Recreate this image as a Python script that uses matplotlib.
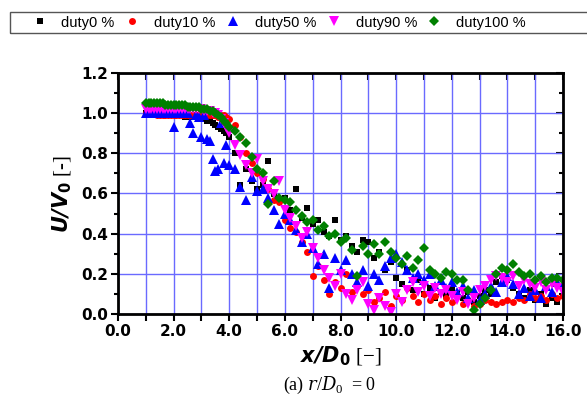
import numpy as np
import matplotlib
matplotlib.use("Agg")
import matplotlib.pyplot as plt
from matplotlib.patches import Rectangle
from matplotlib.ticker import MultipleLocator, FuncFormatter

# measurement positions x/D0
x_near = [1.0, 1.1, 1.2, 1.3, 1.4, 1.5, 1.6, 1.7, 1.8, 1.9, 2.0, 2.1, 2.2, 2.3, 2.4, 2.5,
          2.6, 2.7, 2.8, 2.9, 3.0, 3.1, 3.2, 3.3, 3.4, 3.5, 3.6, 3.7, 3.8, 3.9, 4.0]
x_far = [4.2, 4.4, 4.6, 4.8, 5.0, 5.2, 5.4, 5.6, 5.8, 6.0, 6.2, 6.4, 6.6, 6.8, 7.0, 7.2,
         7.4, 7.6, 7.8, 8.0, 8.2, 8.4, 8.6, 8.8, 9.0, 9.2, 9.4, 9.6, 9.8, 10.0, 10.2, 10.4,
         10.6, 10.8, 11.0, 11.2, 11.4, 11.6, 11.8, 12.0, 12.2, 12.4, 12.6, 12.8, 13.0, 13.2,
         13.4, 13.6, 13.8, 14.0, 14.2, 14.4, 14.6, 14.8, 15.0, 15.2, 15.4, 15.6, 15.8, 16.0]

# U/V0 for each duty ratio
duty0 = [1.00, 1.00, 1.00, 1.00, 1.00, 1.00, 1.00, 1.00, 0.99, 0.99, 0.99, 0.99, 0.99, 0.99, 0.98, 0.98,
         0.98, 0.98, 0.98, 0.97, 0.97, 0.97, 0.96, 0.96, 0.95, 0.94, 0.93, 0.92, 0.91, 0.90, 0.88,
         0.80, 0.64, 0.72, 0.66, 0.62, 0.64, 0.76, 0.60, 0.57, 0.58, 0.52, 0.62, 0.48, 0.53, 0.45, 0.47,
         0.41, 0.39, 0.47, 0.37, 0.39, 0.34, 0.31, 0.37, 0.36, 0.28, 0.31, 0.22, 0.26, 0.18, 0.15, 0.22,
         0.12, 0.17, 0.10, 0.13, 0.08, 0.11, 0.09, 0.12, 0.10, 0.08, 0.11, 0.06, 0.09, 0.12,
         0.10, 0.16, 0.19, 0.17, 0.13, 0.10, 0.08, 0.12, 0.07, 0.10, 0.05, 0.08, 0.06, 0.09]
duty10 = [1.00, 1.00, 1.00, 1.00, 0.99, 0.99, 0.99, 0.99, 0.99, 0.99, 0.99, 0.99, 0.99, 0.99, 0.99, 0.99,
          0.99, 0.99, 0.99, 0.99, 0.99, 0.99, 0.99, 0.99, 0.99, 0.99, 0.98, 0.99, 0.99, 0.98, 0.97,
          0.94, 0.88, 0.80, 0.75, 0.70, 0.67, 0.62, 0.57, 0.56, 0.47, 0.43, 0.41, 0.36, 0.31, 0.19, 0.24,
          0.17, 0.10, 0.16, 0.13, 0.20, 0.11, 0.14, 0.10, 0.12, 0.06, 0.08, 0.11, 0.04, 0.09, 0.07, 0.13,
          0.09, 0.06, 0.10, 0.07, 0.09, 0.05, 0.08, 0.06, 0.09, 0.05, 0.07, 0.04, 0.05, 0.07,
          0.06, 0.05, 0.06, 0.07, 0.06, 0.08, 0.07, 0.10, 0.08, 0.09, 0.07, 0.10, 0.08, 0.09]
duty50 = [1.00, 1.00, 1.00, 1.00, 1.00, 1.00, 1.00, 1.00, 1.00, 1.00, 0.93, 1.00, 1.00, 1.00, 1.00, 1.00,
          0.95, 0.90, 0.99, 0.98, 0.88, 0.99, 0.87, 0.86, 0.77, 0.71, 0.72, 0.95, 0.75, 0.84, 0.74,
          0.72, 0.63, 0.57, 0.68, 0.61, 0.62, 0.58, 0.52, 0.45, 0.50, 0.47, 0.42, 0.36, 0.40, 0.33, 0.25,
          0.30, 0.13, 0.28, 0.22, 0.27, 0.20, 0.16, 0.22, 0.14, 0.20, 0.17, 0.24, 0.28, 0.30, 0.26, 0.22,
          0.18, 0.20, 0.17, 0.20, 0.14, 0.17, 0.13, 0.16, 0.11, 0.14, 0.08, 0.12, 0.07, 0.10,
          0.14, 0.11, 0.16, 0.19, 0.15, 0.10, 0.13, 0.09, 0.12, 0.08, 0.14, 0.11, 0.16, 0.15]
duty90 = [1.02, 1.02, 1.02, 1.02, 1.02, 1.02, 1.02, 1.02, 1.02, 1.02, 1.02, 1.02, 1.02, 1.02, 1.02, 1.02,
          1.02, 1.02, 1.02, 1.02, 1.02, 1.01, 1.01, 1.01, 1.00, 1.00, 0.99, 0.97, 0.95, 0.93, 0.90,
          0.84, 0.79, 0.74, 0.70, 0.77, 0.66, 0.62, 0.60, 0.66, 0.52, 0.48, 0.44, 0.38, 0.41, 0.33, 0.28,
          0.22, 0.18, 0.14, 0.20, 0.10, 0.07, 0.12, 0.16, 0.05, 0.02, 0.08, 0.04, 0.01, 0.10, 0.06, 0.12,
          0.16, 0.11, 0.14, 0.09, 0.13, 0.10, 0.12, 0.09, 0.07, 0.11, 0.05, 0.08, 0.12, 0.14,
          0.17, 0.19, 0.18, 0.16, 0.19, 0.14, 0.17, 0.15, 0.13, 0.16, 0.12, 0.15, 0.13, 0.11]
duty100 = [1.05, 1.05, 1.05, 1.05, 1.05, 1.05, 1.05, 1.04, 1.04, 1.04, 1.04, 1.04, 1.04, 1.04, 1.04, 1.03,
           1.03, 1.03, 1.03, 1.03, 1.02, 1.02, 1.02, 1.01, 1.01, 1.00, 0.99, 0.98, 0.96, 0.95, 0.93,
           0.91, 0.88, 0.85, 0.78, 0.72, 0.70, 0.55, 0.66, 0.58, 0.57, 0.56, 0.52, 0.49, 0.46, 0.47, 0.42,
           0.44, 0.39, 0.40, 0.36, 0.38, 0.32, 0.19, 0.34, 0.30, 0.35, 0.30, 0.36, 0.31, 0.28, 0.25, 0.29,
           0.23, 0.27, 0.33, 0.22, 0.20, 0.18, 0.21, 0.20, 0.17, 0.17, 0.12, 0.02, 0.05, 0.08,
           0.12, 0.20, 0.23, 0.22, 0.25, 0.21, 0.19, 0.20, 0.17, 0.19, 0.16, 0.18, 0.18, 0.17]

labels = ["duty0 %", "duty10 %", "duty50 %", "duty90 %", "duty100 %"]

plt.rcParams["font.family"] = "DejaVu Sans"
plt.rcParams["mathtext.fontset"] = "custom"
plt.rcParams["mathtext.rm"] = "Liberation Serif"
plt.rcParams["mathtext.it"] = "DejaVu Serif:italic"
plt.rcParams["mathtext.bf"] = "DejaVu Sans:bold"
plt.rcParams["mathtext.sf"] = "DejaVu Sans:italic:bold"

fig = plt.figure(figsize=(5.87, 3.97), dpi=100)
ax = fig.add_axes([118 / 587, 1 - 314 / 397, 445 / 587, 241 / 397])

x = np.array(x_near + x_far)
series = [duty0, duty10, duty50, duty90, duty100]
styles = [("s", "black", 5), ("o", "red", 5), ("^", "blue", 6.5), ("v", "magenta", 6.5), ("D", "green", 5.5)]
handles = []
for vals, (m, c, ms), lab in zip(series, styles, labels):
    h, = ax.plot(x, vals, linestyle="none", marker=m, color=c, markersize=ms,
                 markeredgewidth=0, label=lab)
    handles.append(h)

ax.set_xlim(0, 16)
ax.set_ylim(0, 1.2)
ax.xaxis.set_major_locator(MultipleLocator(1))
ax.xaxis.set_major_formatter(FuncFormatter(lambda v, p: "%.1f" % v if int(round(v)) % 2 == 0 else ""))
ax.yaxis.set_major_locator(MultipleLocator(0.2))
ax.yaxis.set_minor_locator(MultipleLocator(0.1))
ax.yaxis.set_major_formatter(FuncFormatter(lambda v, p: "%.1f" % v))
ax.grid(True, which="major", color="#6a6aff", linewidth=1)
ax.set_axisbelow(True)
for s in ax.spines.values():
    s.set_linewidth(2)
ax.tick_params(which="both", direction="out", width=1.5, labelsize=11)
ax.tick_params(which="major", length=5, pad=2)
ax.tick_params(which="minor", length=3)
for lab in ax.get_xticklabels() + ax.get_yticklabels():
    lab.set_fontweight("bold")

# inward ticks on top and right
top = ax.secondary_xaxis("top")
top.xaxis.set_major_locator(MultipleLocator(1))
top.tick_params(direction="in", length=5, width=1.5, labeltop=False)
right = ax.secondary_yaxis("right")
right.yaxis.set_major_locator(MultipleLocator(0.2))
right.yaxis.set_minor_locator(MultipleLocator(0.1))
right.tick_params(which="both", direction="in", width=1.5, labelright=False)
right.tick_params(which="major", length=5)
right.tick_params(which="minor", length=3)

ax.set_xlabel(r"$\mathsf{x/D}_{\mathbf{0}}$ [$-$]", family="Liberation Serif", fontsize=15, labelpad=4)
ax.set_ylabel(r"$\mathsf{U/V}_{\mathbf{0}}$ [-]", family="Liberation Serif", fontsize=15, labelpad=6)

fig.text(330 / 587, 1 - 385 / 397, r"(a) $r/D_0$  = 0", family="Liberation Serif",
         fontsize=13, ha="center", va="center")

fig.legend(handles=handles, labels=labels, loc="center left", ncol=5,
           bbox_to_anchor=(22 / 587, 1 - 22.5 / 397), frameon=False,
           prop={"family": "Liberation Sans", "size": 10.5},
           handlelength=1.0, handletextpad=1.0, columnspacing=0.7, borderpad=0.2)
fig.patches.append(Rectangle((10 / 587, 1 - 33 / 397), 600 / 587, 21 / 397,
                             transform=fig.transFigure, fill=False,
                             edgecolor="#555555", linewidth=1))

fig.savefig("out.png", dpi=100)
